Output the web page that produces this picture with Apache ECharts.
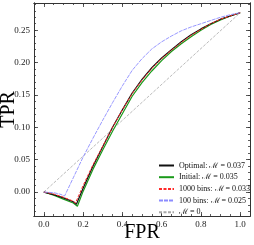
<!DOCTYPE html>
<html><head><meta charset="utf-8">
<script src="https://cdn.jsdelivr.net/npm/echarts@6/dist/echarts.min.js"></script>
<style>html,body{margin:0;padding:0;background:#fff}#c{width:254px;height:245px}</style>
</head><body><div id="c"></div>
<script>
const optX = [0,0.05,0.10,0.15,0.166,0.20,0.25,0.30,0.35,0.40,0.45,0.50,0.55,0.60,0.65,0.70,0.75,0.80,0.85,0.90,0.95,1.0];
const optY = [0,-0.004,-0.009,-0.015,-0.019,0.006,0.040,0.070,0.100,0.127,0.153,0.174,0.192,0.207,0.220,0.232,0.243,0.252,0.260,0.267,0.272,0.277];
const iniX = [0,0.05,0.10,0.15,0.171,0.20,0.25,0.30,0.35,0.40,0.45,0.50,0.55,0.60,0.65,0.70,0.75,0.80,0.85,0.90,0.95,1.0];
const iniY = [0,-0.005,-0.011,-0.017,-0.022,0.001,0.035,0.065,0.094,0.121,0.148,0.169,0.187,0.203,0.217,0.229,0.240,0.250,0.259,0.266,0.272,0.277];
const b1000X = [0,0.05,0.10,0.15,0.161,0.20,0.25,0.30,0.35,0.40,0.45,0.50,0.55,0.60,0.65,0.70,0.75,0.80,0.85,0.90,0.95,1.0];
const b1000Y = [0,-0.003,-0.008,-0.014,-0.017,0.010,0.042,0.071,0.100,0.127,0.152,0.173,0.191,0.206,0.219,0.231,0.242,0.251,0.260,0.267,0.272,0.277];
const b100X = [0,0.05,0.08,0.106,0.15,0.20,0.25,0.30,0.35,0.40,0.45,0.50,0.55,0.60,0.65,0.70,0.75,0.80,0.85,0.90,0.95,1.0];
const b100Y = [0,-0.001,-0.003,-0.006,0.022,0.054,0.083,0.111,0.138,0.164,0.188,0.206,0.221,0.232,0.241,0.249,0.255,0.260,0.265,0.270,0.274,0.277];
const diagX = [0,1];
const diagY = [0,0.277];
const names = ['Optimal: ℳ = 0.037','Initial: ℳ = 0.035','1000 bins: ℳ = 0.033','100 bins: ℳ = 0.025','ℳ = 0'];
const xMajor = [0,0.2,0.4,0.6,0.8,1.0];
const xMinor = [0,0.05,0.1,0.15,0.2,0.25,0.3,0.35,0.4,0.45,0.5,0.55,0.6,0.65,0.7,0.75,0.8,0.85,0.9,0.95,1.0];
const yMajor = [0,0.05,0.10,0.15,0.20,0.25];
const yMinor = [-0.03,-0.02,-0.01,0,0.01,0.02,0.03,0.04,0.05,0.06,0.07,0.08,0.09,0.10,0.11,0.12,0.13,0.14,0.15,0.16,0.17,0.18,0.19,0.20,0.21,0.22,0.23,0.24,0.25,0.26,0.27,0.28,0.29];

const zip = (a,b)=>a.map((v,i)=>[v,b[i]]);
const FONT = 'Liberation Serif';
const frameColor = '#333';
function xAx(pos, vals, len, labels){
  return {type:'value',min:-0.05,max:1.05,position:pos,
    axisLine:{show:true,onZero:false,lineStyle:{color:frameColor,width:1}},
    axisTick:{show:true,inside:true,length:len,customValues:vals,lineStyle:{color:frameColor,width:0.8}},
    axisLabel:{show:labels,customValues:xMajor,formatter:v=>v.toFixed(1),fontFamily:FONT,fontSize:9,color:'#222',margin:4},
    splitLine:{show:false},
    name: labels? 'FPR':'', nameLocation:'middle', nameGap:7, nameMoveOverlap:false,
    nameTextStyle:{fontFamily:FONT,fontSize:20,color:'#000'}};
}
function yAx(pos, vals, len, labels){
  return {type:'value',min:-0.037,max:0.292,position:pos,
    axisLine:{show:true,onZero:false,lineStyle:{color:frameColor,width:1}},
    axisTick:{show:true,inside:true,length:len,customValues:vals,lineStyle:{color:frameColor,width:0.8}},
    axisLabel:{show:labels,customValues:yMajor,formatter:v=>v.toFixed(2),fontFamily:FONT,fontSize:9,color:'#222',margin:4},
    splitLine:{show:false},
    name: labels? 'TPR':'', nameLocation:'middle', nameGap:15, nameMoveOverlap:false,
    nameTextStyle:{fontFamily:FONT,fontSize:20,color:'#000'}};
}
const chart = echarts.init(document.getElementById('c'),null,{renderer:'canvas'});
chart.setOption({
  animation:false,
  backgroundColor:'#fff',
  grid:{left:34,right:4,top:3,bottom:29,containLabel:false,outerBoundsMode:'none'},
  xAxis:[xAx('bottom',xMajor,4,true),xAx('bottom',xMinor,2,false),xAx('top',xMajor,4,false),xAx('top',xMinor,2,false)],
  yAxis:[yAx('left',yMajor,4,true),yAx('left',yMinor,2,false),yAx('right',yMajor,4,false),yAx('right',yMinor,2,false)],
  legend:{orient:'vertical',left:153,top:155.5,itemWidth:15,itemHeight:10,itemGap:1.7,
    itemStyle:{opacity:0},
    textStyle:{fontFamily:FONT,fontSize:8,color:'#111',lineHeight:10},
    data:names},
  series:[
    {name:names[0],type:'line',data:zip(optX,optY),symbol:'none',lineStyle:{color:'#111',width:1.2},itemStyle:{color:'#111'},z:3},
    {name:names[1],type:'line',data:zip(iniX,iniY),symbol:'none',lineStyle:{color:'#1a9a1a',width:1.2},itemStyle:{color:'#1a9a1a'},z:2},
    {name:names[2],type:'line',data:zip(b1000X,b1000Y),symbol:'none',lineStyle:{color:'#ff2a2a',width:1,type:[3,1.5]},itemStyle:{color:'#ff2a2a'},z:4},
    {name:names[3],type:'line',data:zip(b100X,b100Y),symbol:'none',lineStyle:{color:'#8c8cff',width:0.9,type:[4,1]},itemStyle:{color:'#8c8cff'},z:4},
    {name:names[4],type:'line',data:zip(diagX,diagY),symbol:'none',lineStyle:{color:'#a8a8a8',width:0.8,type:[3,1.5]},itemStyle:{color:'#a8a8a8'},z:1}
  ]
});
</script></body></html>
